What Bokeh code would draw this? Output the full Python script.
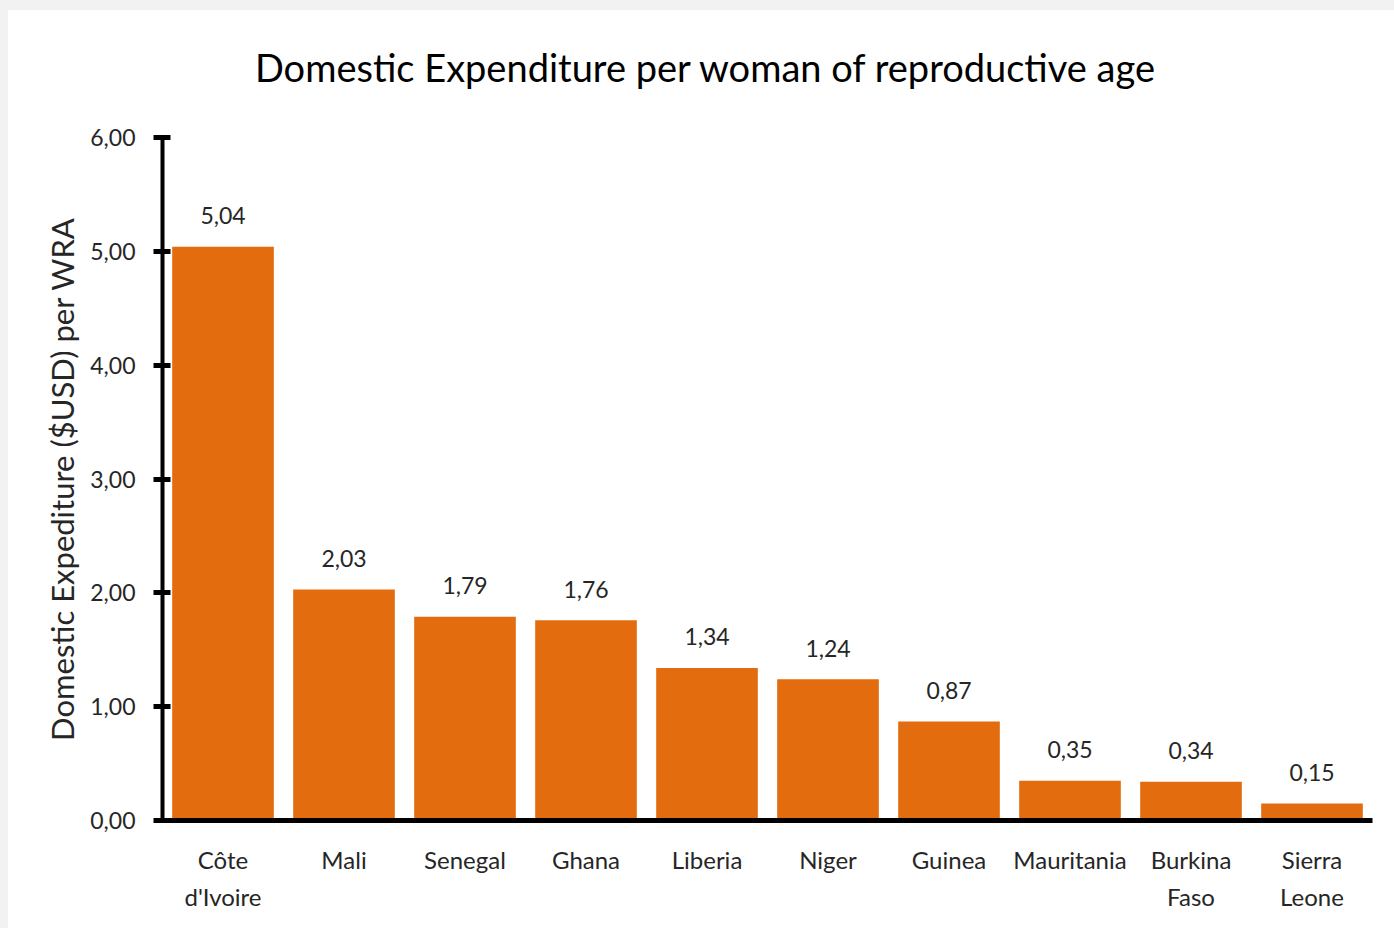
from bokeh.plotting import figure
from bokeh.models import ColumnDataSource, FixedTicker, LabelSet, LinearAxis, Div
from bokeh.core.properties import value
from bokeh.layouts import column, row
from bokeh.embed import file_html
from bokeh.resources import INLINE

title_text = "Domestic Expenditure per woman of reproductive age"
y_label = "Domestic Expediture ($USD) per WRA"
countries = ["Côte d'Ivoire", "Mali", "Senegal", "Ghana", "Liberia", "Niger",
             "Guinea", "Mauritania", "Burkina Faso", "Sierra Leone"]
label_line1 = ["Côte", "Mali", "Senegal", "Ghana", "Liberia", "Niger",
               "Guinea", "Mauritania", "Burkina", "Sierra"]
label_line2 = ["d'Ivoire", "", "", "", "", "", "", "", "Faso", "Leone"]
values = [5.04, 2.03, 1.79, 1.76, 1.34, 1.24, 0.87, 0.35, 0.34, 0.15]
y_ticks = [0, 1, 2, 3, 4, 5, 6]
y_tick_labels = ["0,00", "1,00", "2,00", "3,00", "4,00", "5,00", "6,00"]

FONT = "Lato"
TXT = "#262626"
ORANGE = "#E36C0E"
GRAY = "#f2f2f2"

xpos = list(range(len(countries)))
src = ColumnDataSource(dict(
    x=xpos,
    country=countries,
    value=values,
    label=[f"{v:.2f}".replace(".", ",") for v in values],
))

left_strip = Div(text="", width=8, height=928, margin=0,
                 styles={"background-color": GRAY})
top_strip = Div(text="", width=1386, height=10, margin=0,
                styles={"background-color": GRAY})

title_div = Div(
    text=f'<div style="font-family: Lato; font-size: 38px; line-height: 46px; '
         f'color: #000000; text-align: center; padding-top: 34px; '
         f'padding-left: 8px; width: 1386px;">{title_text}</div>',
    width=1386, height=100, margin=0,
    styles={"background-color": "white"})

p = figure(x_range=(-0.5, len(countries) - 0.5), y_range=(0, 6),
           width=1386, height=818,
           output_backend="svg", toolbar_location=None, x_axis_type=None,
           min_border_left=154, min_border_right=22, min_border_top=27,
           min_border_bottom=108, outline_line_color=None,
           background_fill_color="white", border_fill_color="white")
p.margin = 0

p.vbar(x="x", top="value", width=0.84, source=src,
       fill_color=ORANGE, line_color=None)

labels = LabelSet(x="x", y="value", text="label", source=src,
                  text_align="center", text_baseline="middle", y_offset=31,
                  text_font=value(FONT), text_font_size="23px", text_color=TXT)
p.add_layout(labels)

p.grid.visible = False

p.yaxis.ticker = FixedTicker(ticks=y_ticks)
p.yaxis.major_label_overrides = {t: l for t, l in zip(y_ticks, y_tick_labels)}
p.yaxis.axis_line_width = 4
p.yaxis.axis_line_color = "black"
p.yaxis.major_tick_line_width = 5
p.yaxis.major_tick_line_color = "black"
p.yaxis.major_tick_in = 8
p.yaxis.major_tick_out = 9
p.yaxis.minor_tick_line_color = None
p.yaxis.major_label_text_font = FONT
p.yaxis.major_label_text_font_size = "23px"
p.yaxis.major_label_text_color = TXT
p.yaxis.major_label_standoff = 18
p.yaxis.axis_label = y_label
p.yaxis.axis_label_text_font = FONT
p.yaxis.axis_label_text_font_size = "31px"
p.yaxis.axis_label_text_font_style = "normal"
p.yaxis.axis_label_text_color = TXT
p.yaxis.axis_label_standoff = 6

xa = LinearAxis(ticker=FixedTicker(ticks=xpos),
                major_label_overrides={i: l for i, l in zip(xpos, label_line1)},
                axis_line_width=5, axis_line_color="black",
                major_tick_line_color=None, minor_tick_line_color=None,
                major_label_text_font=FONT, major_label_text_font_size="24px",
                major_label_text_color=TXT, major_label_standoff=18)
p.add_layout(xa, "below")

xb = LinearAxis(ticker=FixedTicker(ticks=xpos),
                major_label_overrides={i: l for i, l in zip(xpos, label_line2)},
                axis_line_color=None,
                major_tick_line_color=None, minor_tick_line_color=None,
                major_label_text_font=FONT, major_label_text_font_size="24px",
                major_label_text_color=TXT, major_label_standoff=-1)
p.add_layout(xb, "below")

layout = row(left_strip, column(top_strip, title_div, p, spacing=0), spacing=0)

open("out.html", "w").write(file_html(layout, INLINE))
